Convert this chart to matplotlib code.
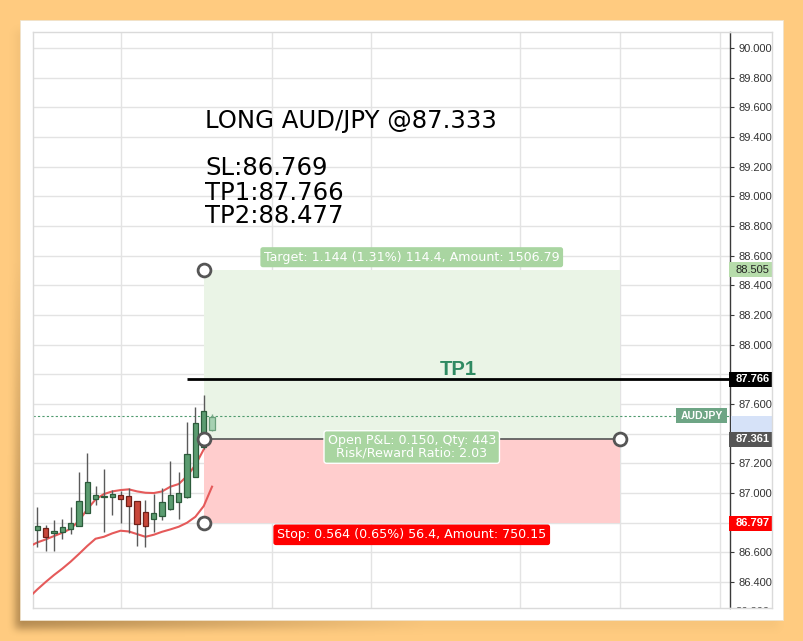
import numpy as np
import matplotlib
matplotlib.use("Agg")
import matplotlib.pyplot as plt
from matplotlib.patches import Rectangle
from matplotlib.lines import Line2D

W, H = 804, 641

# ---- AUD/JPY candles ----
opens  = [86.747, 86.761, 86.727, 86.734, 86.754, 86.776, 86.862, 86.961, 86.970, 86.970, 86.983,
          86.976, 86.943, 86.869, 86.821, 86.842, 86.889, 86.936, 86.970, 87.109, 87.311, 87.424]
highs  = [86.907, 86.783, 86.817, 86.824, 86.905, 87.138, 87.271, 87.046, 87.159, 87.019, 87.015,
          87.035, 86.947, 86.952, 86.992, 87.030, 87.217, 87.141, 87.480, 87.577, 87.660, 87.529]
lows   = [86.632, 86.610, 86.610, 86.691, 86.720, 86.776, 86.862, 86.920, 86.738, 86.853, 86.799,
          86.727, 86.639, 86.632, 86.734, 86.817, 86.887, 86.821, 86.967, 87.109, 87.293, 87.419]
closes = [86.776, 86.700, 86.740, 86.767, 86.794, 86.943, 87.071, 86.983, 86.979, 86.990, 86.961,
          86.911, 86.788, 86.776, 86.862, 86.936, 86.983, 86.997, 87.260, 87.469, 87.550, 87.509]

# ---- envelope bands (start one bar before the first visible candle) ----
upper_band = [86.637, 86.666, 86.686, 86.709, 86.731, 86.758, 86.812, 86.889, 86.956, 86.992, 87.010,
              87.019, 87.024, 87.010, 87.001, 86.999, 87.010, 87.042, 87.060, 87.114, 87.188, 87.293]
lower_band = [86.295, 86.349, 86.399, 86.446, 86.489, 86.536, 86.588, 86.642, 86.691, 86.704, 86.727,
              86.745, 86.740, 86.722, 86.704, 86.718, 86.738, 86.754, 86.772, 86.799, 86.839, 86.911,
              87.042]

# ---- long position levels ----
entry_price = 87.361
stop_price = 86.797
target_price = 88.505
tp1_price = 87.766
last_price = 87.519
position_start, position_end = 20, 70
tp1_start = 18

price_ticks = [86.4, 86.6, 86.8, 87.0, 87.2, 87.4, 87.6, 87.8, 88.0, 88.2, 88.4, 88.6,
               88.8, 89.0, 89.2, 89.4, 89.6, 89.8, 90.0]
hidden_ticks = [86.8, 87.4, 87.8]   # covered by the level badges on the price scale
time_grid = [10.1, 28.2, 40.1, 58.0, 70.0, 82.0]

headline = "LONG AUD/JPY @87.333"
plan_lines = ["SL:86.769", "TP1:87.766", "TP2:88.477"]
target_text = "Target: 1.144 (1.31%) 114.4, Amount: 1506.79"
pnl_text = "Open P&L: 0.150, Qty: 443\nRisk/Reward Ratio: 2.03"
stop_text = "Stop: 0.564 (0.65%) 56.4, Amount: 750.15"
symbol = "AUDJPY"

ORANGE = "#FFCB80"
GREEN_BODY, GREEN_EDGE = "#5b9c70", "#2c5b3b"
RED_BODY, RED_EDGE = "#c8473a", "#6e2018"
BAND = "#e55a5a"
GRID = "#e3e3e3"


def fx(px):
    return px / W


def fy(py):
    return 1 - py / H


fig = plt.figure(figsize=(W / 100, H / 100), dpi=100)
fig.patch.set_facecolor(ORANGE)

# soft shadow under the paper card, cast down and to the left
yy, xx = np.mgrid[0:H, 0:W]
mask = ((xx >= 15) & (xx <= 778) & (yy >= 30) & (yy <= 628)).astype(float)


def box_blur(a, r):
    k = np.ones(2 * r + 1) / (2 * r + 1)
    a = np.apply_along_axis(lambda m: np.convolve(m, k, mode="same"), 0, a)
    a = np.apply_along_axis(lambda m: np.convolve(m, k, mode="same"), 1, a)
    return a


shade = box_blur(box_blur(mask, 4), 4)
weight = np.clip(1.0 - (xx - 20) / 450.0, 0.1, 1.0) * np.clip((yy - 200) / 400.0, 0.15, 1.0)
alpha = shade * weight * 0.5
rgba = np.zeros((H, W, 4))
rgba[..., 0] = 0.42
rgba[..., 1] = 0.30
rgba[..., 2] = 0.14
rgba[..., 3] = alpha
fig.figimage(rgba, 0, 0, origin="upper", zorder=-3)

fig.patches.append(Rectangle((fx(20), fy(620)), fx(763), 600 / H, transform=fig.transFigure,
                             facecolor="white", edgecolor="#efe2cc", lw=0.6, zorder=-2))

ax = fig.add_axes([fx(33), fy(608), fx(697), 576 / H])
ax.set_xlim(-0.517, 83.25)
ax.set_ylim(86.2239, 90.1079)
ax.set_facecolor("white")

for s in ["left", "top", "bottom"]:
    ax.spines[s].set_color("#dadada")
    ax.spines[s].set_linewidth(1)
ax.spines["right"].set_color("#3a3a3a")
ax.spines["right"].set_linewidth(1)

ax.set_xticks([])
ax.yaxis.tick_right()
ax.set_yticks(price_ticks)
ax.set_yticklabels(["" if p in hidden_ticks else f"{p:.3f}" for p in price_ticks],
                   family="Liberation Sans", fontsize=8, color="#333333")
ax.tick_params(axis="y", length=3, width=0.8, color="#3a3a3a", pad=3)
for p in price_ticks:
    ax.axhline(p, color=GRID, lw=1, zorder=0)
for t in time_grid:
    ax.axvline(t, color=GRID, lw=1, zorder=0)

# position zones
ax.fill_between([position_start, position_end], entry_price, target_price,
                color="#eaf4e6", zorder=1, lw=0)
ax.fill_between([position_start, position_end], stop_price, entry_price,
                color="#ffcdcd", zorder=1, lw=0)

# last-price dotted line
ax.axhline(last_price, color="#4f9a6e", lw=0.8, ls=(0, (2, 2)), zorder=2)

# envelope bands
ax.plot(np.arange(-1, len(upper_band) - 1), upper_band, color=BAND, lw=1.5, zorder=3)
ax.plot(np.arange(-1, len(lower_band) - 1), lower_band, color=BAND, lw=1.5, zorder=3)

# candles
idx = np.arange(len(opens))
for i in idx:
    o, h, l, c = opens[i], highs[i], lows[i], closes[i]
    last = i == idx[-1]
    if c >= o:
        face, edge = GREEN_BODY, GREEN_EDGE
    else:
        face, edge = RED_BODY, RED_EDGE
    if last:
        face, edge = "#a6d1b2", "#6a9e7a"
    ax.vlines(i, l, h, color="#5a5a5a" if not last else "#7aa88a", lw=1, zorder=4)
    lo, hi = min(o, c), max(o, c)
    ax.bar(i, max(hi - lo, 0.004), bottom=lo, width=0.64, color=face, edgecolor=edge,
           lw=0.9, zorder=5)

# entry line and TP1 line
ax.hlines(entry_price, position_start, position_end, color="#555555", lw=1.2, zorder=5)
ax.hlines(tp1_price, tp1_start, 83.25, color="black", lw=2, zorder=5)
ax.text(50.6, tp1_price, "TP1", family="Liberation Sans", fontweight="bold", fontsize=14.5,
        color="#2f8a62", ha="center", va="bottom", zorder=6)

# drag handles
hx = [position_start, position_start, position_end, position_start]
hy = [target_price, entry_price, entry_price, stop_price]
ax.scatter(hx, hy, s=85, facecolor="white", edgecolor="#555555", linewidth=2, zorder=7)

mid = (position_start + position_end) / 2
ax.annotate(target_text, (mid, target_price), xytext=(0, 9), textcoords="offset points",
            ha="center", va="center", fontsize=9.1, color="white", family="DejaVu Sans",
            bbox=dict(boxstyle="round,pad=0.28,rounding_size=0.2", fc="#a9d5a1", ec="none"),
            zorder=8)
ax.annotate(pnl_text, (mid, entry_price), xytext=(0, -5.5), textcoords="offset points",
            ha="center", va="center", fontsize=9.1, color="white", family="DejaVu Sans",
            linespacing=0.95,
            bbox=dict(boxstyle="round,pad=0.28,rounding_size=0.2", fc="#a9d5a1", ec="white",
                      lw=1), zorder=8)
ax.annotate(stop_text, (mid, stop_price), xytext=(0, -8.5), textcoords="offset points",
            ha="center", va="center", fontsize=9.1, color="white", family="DejaVu Sans",
            bbox=dict(boxstyle="round,pad=0.3,rounding_size=0.2", fc="#ff0000", ec="none"),
            zorder=8)

# trade plan notes
fig.text(fx(205), fy(121), headline, fontsize=17.6, family="DejaVu Sans", va="center",
         color="black")
for line, py in zip(plan_lines, [168, 193, 216]):
    fig.text(fx(205), fy(py), line, fontsize=17.6, family="DejaVu Sans", va="center",
             color="black")


def price_to_py(p):
    return 48 + (90.0 - p) * 148.3


# price-axis markers
fig.patches.append(Rectangle((fx(731), fy(price_to_py(87.40))), fx(41),
                             (price_to_py(87.40) - price_to_py(last_price)) / H,
                             transform=fig.transFigure, facecolor="#d6e2f8", edgecolor="none",
                             zorder=2))


def axis_badge(price, text, fc, tc, bold=True):
    py = price_to_py(price)
    fig.patches.append(Rectangle((fx(729), fy(py + 7.5)), fx(43), 15 / H,
                                 transform=fig.transFigure, facecolor=fc, edgecolor="none",
                                 zorder=3))
    fig.text(fx(736), fy(py), text, fontsize=8, family="Liberation Sans", color=tc,
             fontweight="bold" if bold else "normal", va="center", ha="left", zorder=4)


axis_badge(target_price, f"{target_price:.3f}", "#b7dcab", "#222222", bold=False)
axis_badge(tp1_price, f"{tp1_price:.3f}", "#000000", "white")
axis_badge(entry_price, f"{entry_price:.3f}", "#555555", "white")
axis_badge(stop_price, f"{stop_price:.3f}", "#ff0000", "white")

# symbol tag at the last price
lp = price_to_py(last_price)
fig.patches.append(Rectangle((fx(676), fy(lp + 7.5)), fx(51), 15 / H, transform=fig.transFigure,
                             facecolor="#6ea585", edgecolor="none", zorder=3))
fig.text(fx(701.5), fy(lp), symbol, fontsize=7.5, family="Liberation Sans", color="white",
         fontweight="bold", ha="center", va="center", zorder=4)

# partially visible bottom tick label, cut by the frame
fig.text(fx(736), fy(price_to_py(86.2)), "86.200", fontsize=8, family="Liberation Sans",
         color="#333333", va="center", zorder=2)
fig.patches.append(Rectangle((fx(731), fy(618)), fx(41), 9.5 / H, transform=fig.transFigure,
                             facecolor="white", edgecolor="none", zorder=3))

# outer frame around the price scale
for (x0, y0, x1, y1) in [(730, 32, 772, 32), (730, 608, 772, 608), (772, 32, 772, 608)]:
    fig.lines.append(Line2D([fx(x0), fx(x1)], [fy(y0), fy(y1)], transform=fig.transFigure,
                            color="#dadada", lw=1, zorder=5))

fig.savefig("out.png", dpi=100, facecolor=ORANGE)
